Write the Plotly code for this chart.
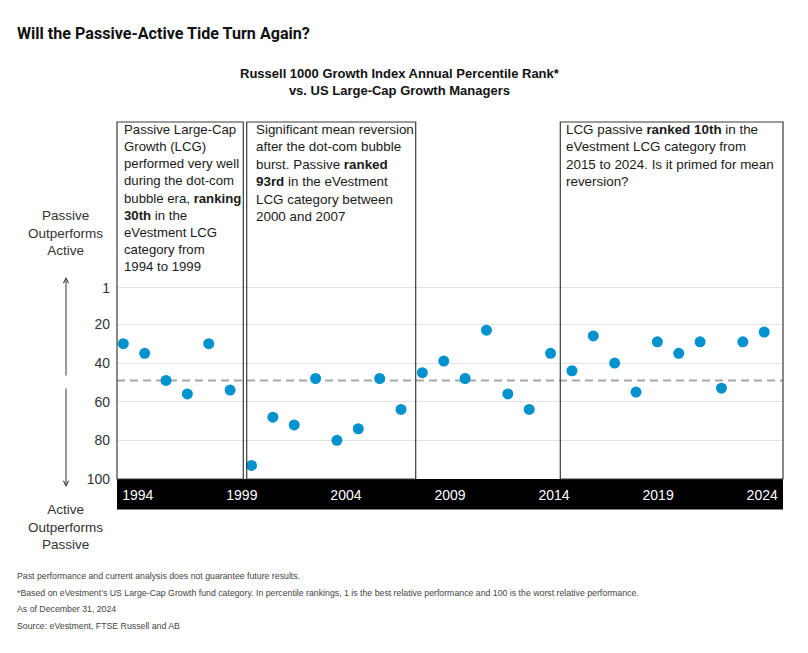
import plotly.graph_objects as go

# ---------------- data ----------------
years = list(range(1994, 2025))
percentile_rank = [30, 35, 49, 56, 30, 54,
                   93, 68, 72, 48, 80, 74, 48, 64,
                   45, 39, 48, 23, 56, 64, 35,
                   44, 26, 40, 55, 29, 35, 29, 53, 29, 24]
median_rank = 49
year_ticks = [1994, 1999, 2004, 2009, 2014, 2019, 2024]
rank_ticks = [1, 20, 40, 60, 80, 100]
rank_tick_text = ["1", "20", "40", "60", "80", "100"]

title_text = "Will the Passive-Active Tide Turn Again?"
subtitle_text = ("Russell 1000 Growth Index Annual Percentile Rank*<br>"
                 "vs. US Large-Cap Growth Managers")
box_texts = [
    "Passive Large-Cap<br>Growth (LCG)<br>performed very well<br>during the dot-com<br>"
    "bubble era, <b>ranking</b><br><b>30th</b> in the<br>eVestment LCG<br>category from<br>1994 to 1999",
    "Significant mean reversion<br>after the dot-com bubble<br>burst. Passive <b>ranked</b><br>"
    "<b>93rd</b> in the eVestment<br>LCG category between<br>2000 and 2007",
    "LCG passive <b>ranked 10th</b> in the<br>eVestment LCG category from<br>"
    "2015 to 2024. Is it primed for mean<br>reversion?",
]
footnotes = [
    "Past performance and current analysis does not guarantee future results.",
    "*Based on eVestment\u2019s US Large-Cap Growth fund category. In percentile rankings, 1 is the best relative performance and 100 is the worst relative performance.",
    "As of December 31, 2024",
    "Source: eVestment, FTSE Russell and AB",
]

# ---------------- layout geometry ----------------
W, H = 808, 653
ML, MR, MT, MB = 117, 25, 122, 174
PW, PH = W - ML - MR, H - MT - MB


def px_x(px):
    return (px - ML) / PW


def px_y(py):
    return (H - MB - py) / PH


FONT = "Liberation Sans, Arial, Helvetica, sans-serif"
DOT = "#0092CF"

fig = go.Figure()
fig.add_trace(go.Scatter(
    x=years, y=percentile_rank, mode="markers",
    marker=dict(color=DOT, size=11, line=dict(width=0)),
    showlegend=False, hoverinfo="x+y"))
fig.add_trace(go.Scatter(x=[year_ticks[0]], y=[None], xaxis="x2", yaxis="y",
                         showlegend=False, hoverinfo="skip"))

shapes = []
# black year band under the plot
shapes.append(dict(type="rect", xref="paper", yref="paper", x0=0, x1=1,
                   y0=px_y(509.5), y1=0, fillcolor="black", line=dict(width=0),
                   layer="below"))
# median dashed line
shapes.append(dict(type="line", xref="paper", yref="y", x0=0, x1=1,
                   y0=median_rank, y1=median_rank,
                   line=dict(color="#a8a8a8", width=2, dash="8px,5px"), layer="below"))
# text boxes
for x0, x1 in [(0, px_x(243.3)), (px_x(246.7), px_x(415.7)), (px_x(560.3), 1)]:
    shapes.append(dict(type="rect", xref="paper", yref="paper", x0=x0, x1=x1,
                       y0=0, y1=1, line=dict(color="#3a3a3a", width=1.2),
                       fillcolor="rgba(0,0,0,0)", layer="above"))

annotations = []
annotations.append(dict(text="<b>" + title_text + "</b>", xref="paper", yref="paper",
                        x=px_x(15), y=px_y(33), xanchor="left", yanchor="middle",
                        showarrow=False,
                        font=dict(family="Roboto, Liberation Sans, sans-serif",
                                  size=16.1, color="#111")))
annotations.append(dict(text="<b>" + subtitle_text.replace("<br>", "</b><br><b>") + "</b>",
                        xref="paper", yref="paper",
                        x=px_x(400), y=px_y(82.5), xanchor="center", yanchor="middle",
                        showarrow=False, align="center",
                        font=dict(family=FONT, size=13, color="#111")))
for txt, xl, fs in zip(box_texts, [121.5, 254, 564], [13.2, 13.4, 13.4]):
    annotations.append(dict(text=txt, xref="paper", yref="paper", x=px_x(xl), y=px_y(120),
                            xanchor="left", yanchor="top", align="left", showarrow=False,
                            font=dict(family=FONT, size=fs, color="#1a1a1a")))
annotations.append(dict(text="Passive<br>Outperforms<br>Active", xref="paper", yref="paper",
                        x=px_x(65), y=px_y(233), xanchor="center", yanchor="middle",
                        align="center", showarrow=False,
                        font=dict(family=FONT, size=13.5, color="#333")))
annotations.append(dict(text="Active<br>Outperforms<br>Passive", xref="paper", yref="paper",
                        x=px_x(65), y=px_y(527), xanchor="center", yanchor="middle",
                        align="center", showarrow=False,
                        font=dict(family=FONT, size=13.5, color="#333")))
# arrows
annotations.append(dict(text="", xref="paper", yref="paper", x=px_x(66), y=px_y(277),
                        ax=0, ay=100, showarrow=True, arrowhead=5, arrowsize=1,
                        arrowwidth=1, arrowcolor="#333"))
annotations.append(dict(text="", xref="paper", yref="paper", x=px_x(66), y=px_y(487),
                        ax=0, ay=-100, showarrow=True, arrowhead=5, arrowsize=1,
                        arrowwidth=1, arrowcolor="#333"))
for i, fn in enumerate(footnotes):
    annotations.append(dict(text=fn, xref="paper", yref="paper",
                            x=px_x(15), y=px_y(576 + 16.5 * i), xanchor="left",
                            yanchor="middle", showarrow=False,
                            font=dict(family=FONT, size=8.75, color="#444")))

fig.update_layout(
    width=W, height=H,
    margin=dict(l=ML, r=MR, t=MT, b=MB, pad=0),
    paper_bgcolor="white", plot_bgcolor="white",
    showlegend=False,
    font=dict(family=FONT, color="#333"),
    xaxis=dict(range=[1993.705, 2024.88], showgrid=False, zeroline=False,
               showticklabels=False, ticks="", showline=False),
    xaxis2=dict(range=[1993, 2025], overlaying="x", anchor="y", side="bottom",
                tickvals=year_ticks, ticktext=[str(y) for y in year_ticks],
                showgrid=False, zeroline=False, ticks="", showline=False,
                ticklabelstandoff=6,
                tickfont=dict(family=FONT, size=14, color="white")),
    yaxis=dict(range=[100, -84.7], tickvals=rank_ticks, ticktext=rank_tick_text,
               showgrid=True, gridcolor="#e2e2e2", gridwidth=1, zeroline=False,
               ticks="", showline=False, ticklabelstandoff=6,
               tickfont=dict(family=FONT, size=14, color="#333")),
    shapes=shapes, annotations=annotations,
)

fig.write_html("out.html")
